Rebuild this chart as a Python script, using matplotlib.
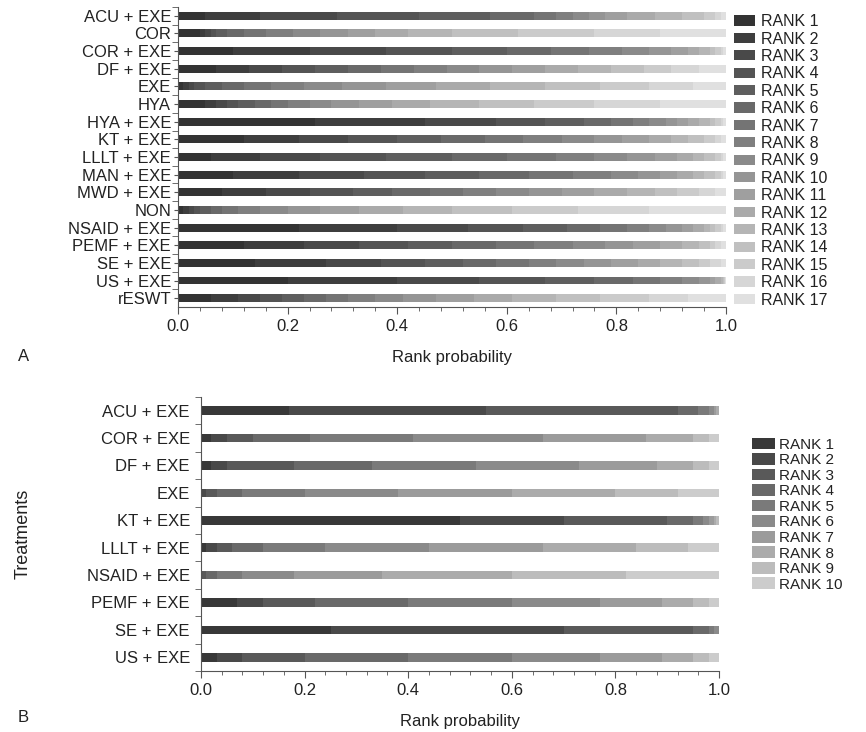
import numpy as np
import matplotlib.pyplot as plt
from matplotlib.ticker import MultipleLocator

plt.rcParams['font.family'] = ['Liberation Sans', 'DejaVu Sans']

# panel A: 17 treatments x 17 ranks
treat_a = ['ACU + EXE', 'COR', 'COR + EXE', 'DF + EXE', 'EXE', 'HYA', 'HYA + EXE',
           'KT + EXE', 'LLLT + EXE', 'MAN + EXE', 'MWD + EXE', 'NON', 'NSAID + EXE',
           'PEMF + EXE', 'SE + EXE', 'US + EXE', 'rESWT']
probs_a = [
    [0.05, 0.10, 0.14, 0.15, 0.13, 0.08, 0.04, 0.03, 0.03, 0.03, 0.04, 0.05, 0.05, 0.04, 0.02, 0.01, 0.01],
    [0.04, 0.01, 0.01, 0.01, 0.02, 0.03, 0.04, 0.05, 0.05, 0.05, 0.05, 0.06, 0.08, 0.12, 0.14, 0.12, 0.12],
    [0.10, 0.14, 0.14, 0.12, 0.10, 0.08, 0.07, 0.06, 0.05, 0.04, 0.03, 0.02, 0.02, 0.01, 0.01, 0.005, 0.005],
    [0.07, 0.06, 0.06, 0.06, 0.06, 0.06, 0.06, 0.06, 0.06, 0.06, 0.06, 0.06, 0.06, 0.06, 0.05, 0.05, 0.05],
    [0.01, 0.01, 0.01, 0.02, 0.03, 0.04, 0.05, 0.06, 0.07, 0.08, 0.09, 0.10, 0.10, 0.10, 0.09, 0.08, 0.06],
    [0.05, 0.02, 0.02, 0.02, 0.03, 0.03, 0.03, 0.04, 0.04, 0.05, 0.06, 0.07, 0.09, 0.10, 0.11, 0.12, 0.12],
    [0.25, 0.20, 0.13, 0.09, 0.07, 0.05, 0.04, 0.03, 0.03, 0.02, 0.02, 0.02, 0.02, 0.01, 0.01, 0.005, 0.005],
    [0.12, 0.10, 0.09, 0.09, 0.08, 0.08, 0.07, 0.07, 0.06, 0.05, 0.05, 0.04, 0.03, 0.03, 0.02, 0.01, 0.01],
    [0.06, 0.09, 0.11, 0.12, 0.12, 0.10, 0.09, 0.07, 0.06, 0.05, 0.04, 0.03, 0.02, 0.02, 0.01, 0.005, 0.005],
    [0.10, 0.12, 0.12, 0.11, 0.10, 0.09, 0.08, 0.07, 0.05, 0.04, 0.03, 0.03, 0.02, 0.02, 0.01, 0.005, 0.005],
    [0.08, 0.08, 0.08, 0.08, 0.07, 0.07, 0.06, 0.06, 0.06, 0.06, 0.06, 0.06, 0.05, 0.04, 0.04, 0.03, 0.02],
    [0.01, 0.01, 0.01, 0.01, 0.02, 0.02, 0.03, 0.04, 0.05, 0.06, 0.07, 0.08, 0.09, 0.11, 0.12, 0.13, 0.14],
    [0.22, 0.18, 0.13, 0.10, 0.08, 0.06, 0.05, 0.04, 0.03, 0.03, 0.02, 0.02, 0.01, 0.01, 0.01, 0.005, 0.005],
    [0.12, 0.11, 0.10, 0.09, 0.08, 0.08, 0.07, 0.07, 0.06, 0.05, 0.05, 0.04, 0.03, 0.02, 0.01, 0.01, 0.01],
    [0.14, 0.13, 0.10, 0.08, 0.07, 0.06, 0.06, 0.05, 0.05, 0.05, 0.05, 0.04, 0.04, 0.03, 0.02, 0.02, 0.01],
    [0.20, 0.20, 0.15, 0.12, 0.09, 0.07, 0.05, 0.04, 0.03, 0.02, 0.01, 0.01, 0.004, 0.002, 0.002, 0.001, 0.001],
    [0.06, 0.05, 0.04, 0.04, 0.04, 0.04, 0.04, 0.05, 0.05, 0.06, 0.07, 0.07, 0.08, 0.08, 0.09, 0.07, 0.07],
]

# panel B: 10 treatments x 10 ranks
treat_b = ['ACU + EXE', 'COR + EXE', 'DF + EXE', 'EXE', 'KT + EXE', 'LLLT + EXE',
           'NSAID + EXE', 'PEMF + EXE', 'SE + EXE', 'US + EXE']
probs_b = [
    [0.17, 0.38, 0.37, 0.04, 0.02, 0.01, 0.005, 0.005, 0.0, 0.0],
    [0.02, 0.03, 0.05, 0.11, 0.20, 0.25, 0.20, 0.09, 0.03, 0.02],
    [0.02, 0.03, 0.13, 0.15, 0.20, 0.20, 0.15, 0.07, 0.03, 0.02],
    [0.0, 0.01, 0.02, 0.05, 0.12, 0.18, 0.22, 0.20, 0.12, 0.08],
    [0.50, 0.20, 0.20, 0.05, 0.02, 0.01, 0.01, 0.005, 0.005, 0.0],
    [0.01, 0.02, 0.03, 0.06, 0.12, 0.20, 0.22, 0.18, 0.10, 0.06],
    [0.0, 0.0, 0.01, 0.02, 0.05, 0.10, 0.17, 0.25, 0.22, 0.18],
    [0.07, 0.05, 0.10, 0.18, 0.20, 0.17, 0.12, 0.06, 0.03, 0.02],
    [0.25, 0.45, 0.25, 0.03, 0.01, 0.01, 0.0, 0.0, 0.0, 0.0],
    [0.03, 0.05, 0.12, 0.20, 0.20, 0.17, 0.12, 0.06, 0.03, 0.02],
]

xticks = [0.0, 0.2, 0.4, 0.6, 0.8, 1.0]

W, H = 866, 732
fig = plt.figure(figsize=(W / 100, H / 100), dpi=100)
txt = '#222222'


def stacked(ax, treats, probs, shades, bar_h):
    p = np.array(probs)
    y = np.arange(len(treats))
    left = np.zeros(len(treats))
    for k in range(p.shape[1]):
        ax.barh(y, p[:, k], left=left, height=bar_h, color=shades[k],
                edgecolor='none', label=f'RANK {k + 1}')
        left += p[:, k]
    ax.set_xlim(0, 1.0)
    ax.set_ylim(len(treats) - 0.5, -0.5)
    ax.set_xticks(xticks)
    ax.set_xticklabels([f'{t:.1f}' for t in xticks], fontsize=12, color=txt)
    ax.xaxis.set_minor_locator(MultipleLocator(0.04))
    ax.tick_params(axis='x', which='major', length=5, color='#555555')
    ax.tick_params(axis='x', which='minor', length=3, color='#555555')
    for s in ['top', 'right']:
        ax.spines[s].set_visible(False)
    for s in ['left', 'bottom']:
        ax.spines[s].set_color('#555555')
    ax.set_xlabel('Rank probability', fontsize=12, color=txt, labelpad=12)
    return y


# ---- panel A
axA = fig.add_axes([178 / W, 1 - 307 / H, 548 / W, 300 / H])
shades_a = [str(g) for g in np.linspace(0.2, 0.88, 17)]
ya = stacked(axA, treat_a, probs_a, shades_a, 0.45)
axA.set_yticks(ya)
axA.set_yticklabels(treat_a, fontsize=12, color=txt)
axA.set_yticks(ya - 0.5, minor=True)
axA.tick_params(axis='y', which='major', length=3, color='#555555', pad=2)
axA.tick_params(axis='y', which='minor', length=4, color='#555555')
hA, lA = axA.get_legend_handles_labels()
fig.legend(hA, lA, loc='upper left', bbox_to_anchor=(723 / W, 1 - 3 / H),
           frameon=False, fontsize=11.5, handlelength=1.3, handleheight=0.6,
           handletextpad=0.35, labelspacing=0.15, borderpad=0.2,
           labelcolor=txt)
fig.text(18 / W, 1 - 357 / H, 'A', fontsize=12, color=txt, va='center')

# ---- panel B
axB = fig.add_axes([201 / W, 1 - 671 / H, 518 / W, 274 / H])
shades_b = [str(g) for g in np.linspace(0.22, 0.80, 10)]
yb = stacked(axB, treat_b, probs_b, shades_b, 0.32)
axB.set_yticks(yb)
axB.set_yticklabels(treat_b, fontsize=12, color=txt)
axB.set_yticks(np.append(yb - 0.5, yb[-1] + 0.5), minor=True)
axB.tick_params(axis='y', which='major', length=0, pad=8)
axB.tick_params(axis='y', which='minor', length=4, color='#555555')
axB.set_ylabel('Treatments', fontsize=13, color=txt)
axB.yaxis.set_label_coords(-(201 - 32) / 518, 0.5)
hB, lB = axB.get_legend_handles_labels()
fig.legend(hB, lB, loc='upper left', bbox_to_anchor=(741 / W, 1 - 427 / H),
           frameon=False, fontsize=11, handlelength=1.5, handleheight=0.8,
           handletextpad=0.3, labelspacing=0.09, borderpad=0.2,
           labelcolor=txt)
fig.text(18 / W, 1 - 718 / H, 'B', fontsize=12, color=txt, va='center')

fig.savefig('out.png', dpi=100)
